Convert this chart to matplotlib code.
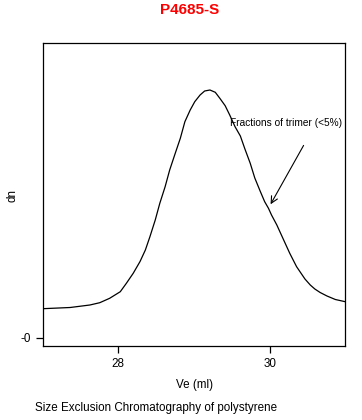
import matplotlib
matplotlib.use("Agg")
import matplotlib.pyplot as plt

plt.rcParams['font.family'] = ['Liberation Sans', 'DejaVu Sans']

ve = [27.01, 27.37, 27.63, 27.76, 27.89, 28.03, 28.11, 28.20, 28.29, 28.36,
      28.42, 28.49, 28.55, 28.62, 28.68, 28.75, 28.82, 28.88, 28.95, 29.01,
      29.08, 29.14, 29.21, 29.28, 29.34, 29.41, 29.47, 29.54, 29.61, 29.67,
      29.74, 29.80, 29.87, 29.93, 29.98, 30.02, 30.09, 30.18, 30.26, 30.35,
      30.46, 30.53, 30.59, 30.66, 30.75, 30.86, 30.99]
dn = [0.0290, 0.0302, 0.0327, 0.0350, 0.0394, 0.0460, 0.0544, 0.0644, 0.0762, 0.0877,
      0.1010, 0.1177, 0.1344, 0.1510, 0.1677, 0.1837, 0.1994, 0.2160, 0.2277, 0.2360,
      0.2427, 0.2467, 0.2477, 0.2454, 0.2394, 0.2320, 0.2227, 0.2110, 0.2017, 0.1887,
      0.1744, 0.1597, 0.1467, 0.1360, 0.1294, 0.1227, 0.1127, 0.0977, 0.0844, 0.0710,
      0.0587, 0.0527, 0.0487, 0.0452, 0.0417, 0.0382, 0.0360]
xticks = [28, 30]
yticks = [0]
ytick_labels = ['-0']
title = 'P4685-S'
annotation = 'Fractions of trimer (<5%)'
arrow_tip = (29.99, 0.131)
arrow_tail = (30.46, 0.1947)
text_pos = (30.21, 0.2144)

W, H = 362, 420
fig = plt.figure(figsize=(W / 100, H / 100), dpi=100)
ax = fig.add_axes([43 / W, 1 - 345.7 / H, (345 - 43) / W, (345.7 - 43) / H])
ax.plot(ve, dn, color='black', lw=0.9)
ax.set_xlim(27.013, 30.987)
ax.set_ylim(-0.008, 0.2947)
ax.set_xticks(xticks)
ax.set_xticklabels([str(t) for t in xticks])
ax.set_yticks(yticks)
ax.set_yticklabels(ytick_labels)
ax.tick_params(direction='out', length=5, width=0.9, labelsize=8.4, pad=4)
for s in ax.spines.values():
    s.set_linewidth(0.9)
    s.set_color('black')

ax.annotate('', xy=arrow_tip, xytext=arrow_tail,
            arrowprops=dict(arrowstyle='->', color='black', lw=0.8, mutation_scale=12))
ax.text(text_pos[0], text_pos[1], annotation, fontsize=7.3, ha='center', va='center')

fig.text(190 / W, 1 - 10 / H, title, color='red', fontweight='bold', fontsize=11,
         ha='center', va='center')
fig.text(194 / W, 1 - 385 / H, 'Ve (ml)', fontsize=8.4, ha='center', va='center')
fig.text(12 / W, 1 - 195 / H, 'dn', fontsize=8.4, ha='center', va='center', rotation=90)
fig.text(35 / W, 1 - 408 / H, 'Size Exclusion Chromatography of polystyrene',
         fontsize=8.4, ha='left', va='center')

fig.savefig('out.png', dpi=100)
